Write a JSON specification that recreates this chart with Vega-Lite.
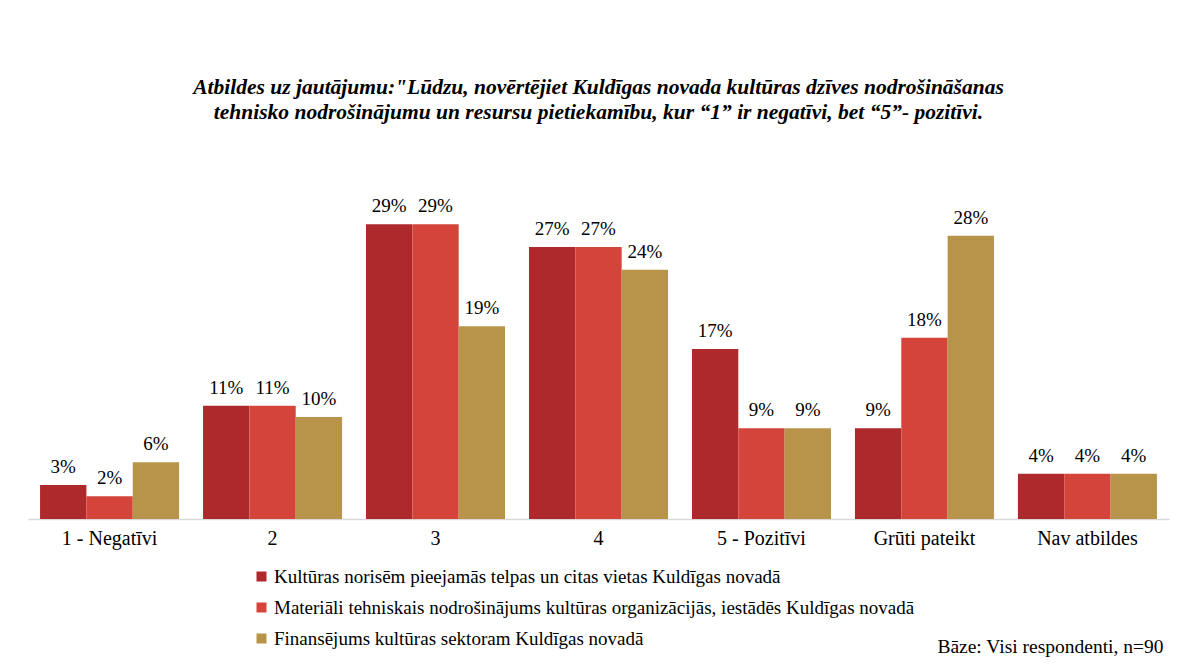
{
  "$schema": "https://vega.github.io/schema/vega-lite/v6.json",
  "autosize": {"type": "none"},
  "width": 1141,
  "height": 306,
  "padding": {"left": 28, "top": 213, "right": 16, "bottom": 145},
  "background": "white",
  "title": {
    "text": ["Atbildes uz jautājumu:\"Lūdzu, novērtējiet  Kuldīgas novada kultūras dzīves nodrošināšanas", "tehnisko nodrošinājumu un resursu pietiekamību, kur  “1” ir negatīvi, bet “5”- pozitīvi."],
    "font": "Times New Roman, Liberation Serif, serif",
    "fontSize": 21.5,
    "fontWeight": "bold",
    "fontStyle": "italic",
    "color": "black",
    "lineHeight": 25,
    "anchor": "middle",
    "frame": "group",
    "offset": 74
  },
  "data": {
    "values": [
      {"cat": "1 - Negatīvi", "series": "Kultūras norisēm pieejamās telpas un citas vietas Kuldīgas novadā", "value": 0.0333},
      {"cat": "1 - Negatīvi", "series": "Materiāli tehniskais nodrošinājums kultūras organizācijās, iestādēs Kuldīgas novadā", "value": 0.0222},
      {"cat": "1 - Negatīvi", "series": "Finansējums kultūras sektoram Kuldīgas novadā", "value": 0.0556},
      {"cat": "2", "series": "Kultūras norisēm pieejamās telpas un citas vietas Kuldīgas novadā", "value": 0.1111},
      {"cat": "2", "series": "Materiāli tehniskais nodrošinājums kultūras organizācijās, iestādēs Kuldīgas novadā", "value": 0.1111},
      {"cat": "2", "series": "Finansējums kultūras sektoram Kuldīgas novadā", "value": 0.1},
      {"cat": "3", "series": "Kultūras norisēm pieejamās telpas un citas vietas Kuldīgas novadā", "value": 0.2889},
      {"cat": "3", "series": "Materiāli tehniskais nodrošinājums kultūras organizācijās, iestādēs Kuldīgas novadā", "value": 0.2889},
      {"cat": "3", "series": "Finansējums kultūras sektoram Kuldīgas novadā", "value": 0.1889},
      {"cat": "4", "series": "Kultūras norisēm pieejamās telpas un citas vietas Kuldīgas novadā", "value": 0.2667},
      {"cat": "4", "series": "Materiāli tehniskais nodrošinājums kultūras organizācijās, iestādēs Kuldīgas novadā", "value": 0.2667},
      {"cat": "4", "series": "Finansējums kultūras sektoram Kuldīgas novadā", "value": 0.2444},
      {"cat": "5 - Pozitīvi", "series": "Kultūras norisēm pieejamās telpas un citas vietas Kuldīgas novadā", "value": 0.1667},
      {"cat": "5 - Pozitīvi", "series": "Materiāli tehniskais nodrošinājums kultūras organizācijās, iestādēs Kuldīgas novadā", "value": 0.0889},
      {"cat": "5 - Pozitīvi", "series": "Finansējums kultūras sektoram Kuldīgas novadā", "value": 0.0889},
      {"cat": "Grūti pateikt", "series": "Kultūras norisēm pieejamās telpas un citas vietas Kuldīgas novadā", "value": 0.0889},
      {"cat": "Grūti pateikt", "series": "Materiāli tehniskais nodrošinājums kultūras organizācijās, iestādēs Kuldīgas novadā", "value": 0.1778},
      {"cat": "Grūti pateikt", "series": "Finansējums kultūras sektoram Kuldīgas novadā", "value": 0.2778},
      {"cat": "Nav atbildes", "series": "Kultūras norisēm pieejamās telpas un citas vietas Kuldīgas novadā", "value": 0.0444},
      {"cat": "Nav atbildes", "series": "Materiāli tehniskais nodrošinājums kultūras organizācijās, iestādēs Kuldīgas novadā", "value": 0.0444},
      {"cat": "Nav atbildes", "series": "Finansējums kultūras sektoram Kuldīgas novadā", "value": 0.0444}
    ]
  },
  "encoding": {
    "x": {
      "field": "cat",
      "type": "nominal",
      "sort": null,
      "scale": {"paddingInner": 0.147, "paddingOuter": 0.074},
      "axis": {
        "title": "Bāze: Visi respondenti, n=90",
        "titleFont": "Times New Roman, Liberation Serif, serif",
        "titleFontSize": 19.5,
        "titleFontWeight": "normal",
        "titleColor": "black",
        "titleAlign": "right",
        "titleBaseline": "alphabetic",
        "titleX": 1135,
        "titleY": 133,
        "labelAngle": 0,
        "labelFont": "Times New Roman, Liberation Serif, serif",
        "labelFontSize": 20,
        "labelColor": "black",
        "labelPadding": 9,
        "ticks": false,
        "domainColor": "#d9d9d9",
        "domainWidth": 1.5,
        "grid": false
      }
    },
    "xOffset": {"field": "series", "type": "nominal", "sort": null},
    "y": {
      "field": "value",
      "type": "quantitative",
      "scale": {"domain": [0, 0.3], "nice": false},
      "axis": null
    }
  },
  "layer": [
    {
      "mark": {"type": "bar"},
      "encoding": {
        "color": {
          "field": "series",
          "type": "nominal",
          "sort": null,
          "scale": {
            "domain": ["Kultūras norisēm pieejamās telpas un citas vietas Kuldīgas novadā", "Materiāli tehniskais nodrošinājums kultūras organizācijās, iestādēs Kuldīgas novadā", "Finansējums kultūras sektoram Kuldīgas novadā"],
            "range": ["#ae292c", "#d5443a", "#b8944b"]
          },
          "legend": {
            "title": null,
            "orient": "none",
            "legendX": 224,
            "legendY": 354,
            "direction": "vertical",
            "symbolType": "square",
            "symbolSize": 100,
            "symbolStrokeWidth": 0,
            "labelFont": "Times New Roman, Liberation Serif, serif",
            "labelFontSize": 19,
            "labelColor": "black",
            "labelLimit": 0,
            "labelOffset": 3,
            "rowPadding": 11
          }
        }
      }
    },
    {
      "mark": {"type": "text", "baseline": "alphabetic", "dy": -12, "font": "Times New Roman, Liberation Serif, serif", "fontSize": 19, "color": "black"},
      "encoding": {
        "text": {"field": "value", "type": "quantitative", "format": ".0%"}
      }
    }
  ],
  "config": {"view": {"stroke": null}}
}
